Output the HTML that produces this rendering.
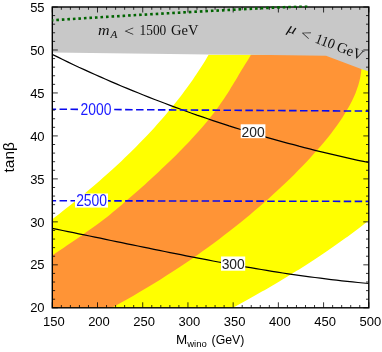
<!DOCTYPE html>
<html><head><meta charset="utf-8"><style>
html,body{margin:0;padding:0;background:#fff;}
svg{display:block;will-change:transform;}
text{font-family:"Liberation Sans",sans-serif;}
.ser text,.ser{font-family:"Liberation Serif",serif;}
</style></head><body>
<svg width="382" height="352" viewBox="0 0 382 352">
<rect width="382" height="352" fill="#fff"/>
<defs><clipPath id="c"><rect x="52.3" y="7.0" width="316.5" height="300.8"/></clipPath><clipPath id="c2"><rect x="52.3" y="5.4" width="316.5" height="100"/></clipPath></defs>
<g clip-path="url(#c)">
<polygon fill="#ffff00" points="51.9,219.5 55.5,216.7 59.2,213.9 62.8,211.1 66.3,208.3 69.9,205.5 73.3,202.8 76.8,200.0 80.2,197.2 83.6,194.4 87.0,191.6 90.3,188.8 93.6,186.0 96.8,183.2 100.0,180.4 103.2,177.6 106.4,174.8 109.5,172.0 112.6,169.3 115.6,166.5 118.6,163.7 121.6,160.9 124.5,158.1 127.4,155.3 130.3,152.5 133.1,149.7 135.9,146.9 138.7,144.1 141.4,141.3 144.1,138.5 146.8,135.8 149.4,133.0 152.0,130.2 154.5,127.4 157.0,124.6 159.5,121.8 162.0,119.0 164.4,116.2 166.7,113.4 169.1,110.6 171.4,107.8 173.7,105.0 175.9,102.3 178.1,99.5 180.3,96.7 182.4,93.9 184.5,91.1 186.6,88.3 188.6,85.5 190.6,82.7 192.6,79.9 194.5,77.1 196.4,74.3 198.2,71.5 200.0,68.8 201.8,66.0 203.6,63.2 205.3,60.4 207.0,57.6 208.6,54.8 369.0,54.4 369.0,220.3 369.0,220.3 367.1,221.8 365.2,223.3 363.3,224.8 361.4,226.2 359.5,227.7 357.5,229.2 355.5,230.7 353.5,232.2 351.5,233.7 349.5,235.2 347.5,236.7 345.5,238.1 343.4,239.6 341.3,241.1 339.2,242.6 337.1,244.1 335.0,245.6 332.9,247.1 330.7,248.5 328.6,250.0 326.4,251.5 324.2,253.0 322.0,254.5 319.8,256.0 317.5,257.5 315.3,258.9 313.0,260.4 310.7,261.9 308.4,263.4 306.1,264.9 303.8,266.4 301.4,267.9 299.1,269.4 296.7,270.8 294.3,272.3 291.9,273.8 289.5,275.3 287.1,276.8 284.6,278.3 282.1,279.8 279.7,281.2 277.2,282.7 274.7,284.2 272.1,285.7 269.6,287.2 267.1,288.7 264.5,290.2 261.9,291.6 259.3,293.1 256.7,294.6 254.1,296.1 251.4,297.6 248.8,299.1 246.1,300.6 243.4,302.1 240.7,303.5 238.0,305.0 235.3,306.5 232.5,308.0 52.0,308.0"/>
<polygon fill="#ff9436" points="52.0,255.5 55.8,253.0 59.6,250.4 63.4,247.9 67.2,245.3 71.0,242.8 74.7,240.3 78.4,237.7 82.1,235.2 85.7,232.6 89.3,230.1 92.9,227.6 96.4,225.0 99.8,222.5 103.1,219.9 106.4,217.4 109.6,214.9 112.7,212.3 115.8,209.8 118.8,207.2 121.8,204.7 124.7,202.1 127.7,199.6 130.6,197.1 133.5,194.5 136.4,192.0 139.3,189.4 142.1,186.9 145.0,184.4 147.8,181.8 150.6,179.3 153.3,176.7 156.1,174.2 158.8,171.7 161.5,169.1 164.2,166.6 166.8,164.0 169.5,161.5 172.1,159.0 174.7,156.4 177.2,153.9 179.8,151.3 182.3,148.8 184.7,146.3 187.2,143.7 189.6,141.2 192.0,138.6 194.3,136.1 196.6,133.6 198.9,131.0 201.1,128.5 203.3,125.9 205.4,123.4 207.5,120.9 209.6,118.3 211.6,115.8 213.6,113.2 215.5,110.7 217.4,108.2 219.3,105.6 221.0,103.1 222.8,100.5 224.5,98.0 226.1,95.4 227.8,92.9 229.4,90.4 230.9,87.8 232.5,85.3 234.0,82.7 235.6,80.2 237.1,77.7 238.6,75.1 240.1,72.6 241.6,70.0 243.2,67.5 244.7,65.0 246.3,62.4 247.9,59.9 249.5,57.3 251.1,54.8 361.2,54.8 361.4,69.1 361.0,73.1 360.3,77.2 359.4,81.2 358.3,85.3 356.9,89.3 355.4,93.4 353.6,97.4 351.7,101.5 349.6,105.5 347.3,109.6 344.9,113.6 342.3,117.7 339.6,121.7 336.8,125.8 333.8,129.8 330.7,133.9 327.5,137.9 324.2,142.0 320.8,146.0 317.2,150.1 313.6,154.1 309.9,158.2 306.2,162.2 302.3,166.3 298.3,170.3 294.3,174.4 290.2,178.4 286.0,182.5 281.7,186.5 277.4,190.6 273.0,194.6 268.5,198.7 263.9,202.7 259.3,206.8 254.5,210.8 249.7,214.9 244.8,218.9 239.9,223.0 234.8,227.0 229.7,231.1 224.4,235.1 219.1,239.2 213.7,243.2 208.2,247.3 202.5,251.3 196.8,255.4 191.0,259.4 185.0,263.5 179.0,267.5 172.8,271.6 166.5,275.6 160.1,279.7 153.5,283.7 146.8,287.8 140.0,291.8 133.0,295.9 125.9,299.9 118.6,304.0 111.2,308.0 52.0,308.0"/>
<polygon fill="#c8c8c8" points="52.0,7.0 369.0,7.0 369.0,71.5 361.2,69.1 326.0,55.8 251.0,54.8 209.0,54.6 52.0,52.4"/>
<polyline fill="none" stroke="#000" stroke-width="1.2" points="52.0,54.3 57.4,56.9 62.7,59.5 68.1,62.1 73.5,64.7 78.8,67.2 84.2,69.6 89.6,72.1 94.9,74.5 100.3,76.9 105.7,79.3 111.0,81.6 116.4,83.9 121.8,86.2 127.1,88.4 132.5,90.6 137.9,92.8 143.3,95.0 148.6,97.1 154.0,99.2 159.4,101.3 164.7,103.3 170.1,105.4 175.5,107.4 180.8,109.3 186.2,111.3 191.6,113.2 196.9,115.1 202.3,116.9 207.7,118.8 213.0,120.6 218.4,122.4 223.8,124.1 229.1,125.9 234.5,127.6 239.9,129.3 245.2,130.9 250.6,132.5 256.0,134.2 261.3,135.7 266.7,137.3 272.1,138.8 277.4,140.3 282.8,141.8 288.2,143.3 293.6,144.7 298.9,146.2 304.3,147.6 309.7,148.9 315.0,150.3 320.4,151.6 325.8,152.9 331.1,154.2 336.5,155.4 341.9,156.7 347.2,157.9 352.6,159.1 358.0,160.3 363.3,161.4 368.7,162.5"/>
<polyline fill="none" stroke="#000" stroke-width="1.2" points="52.0,228.3 57.4,229.4 62.7,230.5 68.1,231.6 73.5,232.7 78.8,233.8 84.2,234.9 89.6,236.0 94.9,237.1 100.3,238.2 105.7,239.4 111.0,240.5 116.4,241.6 121.8,242.7 127.1,243.8 132.5,244.9 137.9,246.0 143.3,247.1 148.6,248.2 154.0,249.3 159.4,250.4 164.7,251.5 170.1,252.6 175.5,253.7 180.8,254.7 186.2,255.8 191.6,256.8 196.9,257.9 202.3,258.9 207.7,259.9 213.0,261.0 218.4,262.0 223.8,262.9 229.1,263.9 234.5,264.9 239.9,265.8 245.2,266.8 250.6,267.7 256.0,268.6 261.3,269.5 266.7,270.4 272.1,271.3 277.4,272.1 282.8,273.0 288.2,273.8 293.6,274.6 298.9,275.3 304.3,276.1 309.7,276.8 315.0,277.5 320.4,278.2 325.8,278.9 331.1,279.6 336.5,280.2 341.9,280.8 347.2,281.4 352.6,281.9 358.0,282.5 363.3,283.0 368.7,283.5"/>
<path d="M52,109.2L369,111.1M52,200.7L369,201.4" stroke="#0a0aee" stroke-width="1.6" stroke-dasharray="7.5,3.43" stroke-dashoffset="3.38" fill="none"/>
</g>
<rect x="240.7" y="124.3" width="24.7" height="13.9" fill="#fff"/>
<rect x="221" y="256.5" width="24.2" height="14.2" fill="#fff"/>
<rect x="79.5" y="103" width="33" height="14.1" fill="#fff"/>
<rect x="75" y="193.5" width="33" height="14.1" fill="#fff"/>
<text transform="translate(253.1,136.8) scale(0.9,1)" font-size="15.4" fill="#222" text-anchor="middle">200</text>
<text transform="translate(233.2,269.3) scale(0.9,1)" font-size="15.4" fill="#222" text-anchor="middle">300</text>
<text transform="translate(96,115.4) scale(0.88,1)" font-size="15.8" fill="#1a1aff" text-anchor="middle">2000</text>
<text transform="translate(91.6,205.8) scale(0.88,1)" font-size="15.8" fill="#1a1aff" text-anchor="middle">2500</text>
<path d="M52.30,307.8v-5.5M52.30,7.0v5.5M61.34,307.8v-2.8M61.34,7.0v2.8M70.39,307.8v-2.8M70.39,7.0v2.8M79.43,307.8v-2.8M79.43,7.0v2.8M88.47,307.8v-2.8M88.47,7.0v2.8M97.51,307.8v-5.5M97.51,7.0v5.5M106.56,307.8v-2.8M106.56,7.0v2.8M115.60,307.8v-2.8M115.60,7.0v2.8M124.64,307.8v-2.8M124.64,7.0v2.8M133.69,307.8v-2.8M133.69,7.0v2.8M142.73,307.8v-5.5M142.73,7.0v5.5M151.77,307.8v-2.8M151.77,7.0v2.8M160.81,307.8v-2.8M160.81,7.0v2.8M169.86,307.8v-2.8M169.86,7.0v2.8M178.90,307.8v-2.8M178.90,7.0v2.8M187.94,307.8v-5.5M187.94,7.0v5.5M196.99,307.8v-2.8M196.99,7.0v2.8M206.03,307.8v-2.8M206.03,7.0v2.8M215.07,307.8v-2.8M215.07,7.0v2.8M224.11,307.8v-2.8M224.11,7.0v2.8M233.16,307.8v-5.5M233.16,7.0v5.5M242.20,307.8v-2.8M242.20,7.0v2.8M251.24,307.8v-2.8M251.24,7.0v2.8M260.29,307.8v-2.8M260.29,7.0v2.8M269.33,307.8v-2.8M269.33,7.0v2.8M278.37,307.8v-5.5M278.37,7.0v5.5M287.41,307.8v-2.8M287.41,7.0v2.8M296.46,307.8v-2.8M296.46,7.0v2.8M305.50,307.8v-2.8M305.50,7.0v2.8M314.54,307.8v-2.8M314.54,7.0v2.8M323.59,307.8v-5.5M323.59,7.0v5.5M332.63,307.8v-2.8M332.63,7.0v2.8M341.67,307.8v-2.8M341.67,7.0v2.8M350.71,307.8v-2.8M350.71,7.0v2.8M359.76,307.8v-2.8M359.76,7.0v2.8M368.80,307.8v-5.5M368.80,7.0v5.5M52.3,307.80h5.5M368.8,307.80h-5.5M52.3,299.21h2.8M368.8,299.21h-2.8M52.3,290.61h2.8M368.8,290.61h-2.8M52.3,282.02h2.8M368.8,282.02h-2.8M52.3,273.42h2.8M368.8,273.42h-2.8M52.3,264.83h5.5M368.8,264.83h-5.5M52.3,256.23h2.8M368.8,256.23h-2.8M52.3,247.64h2.8M368.8,247.64h-2.8M52.3,239.05h2.8M368.8,239.05h-2.8M52.3,230.45h2.8M368.8,230.45h-2.8M52.3,221.86h5.5M368.8,221.86h-5.5M52.3,213.26h2.8M368.8,213.26h-2.8M52.3,204.67h2.8M368.8,204.67h-2.8M52.3,196.07h2.8M368.8,196.07h-2.8M52.3,187.48h2.8M368.8,187.48h-2.8M52.3,178.89h5.5M368.8,178.89h-5.5M52.3,170.29h2.8M368.8,170.29h-2.8M52.3,161.70h2.8M368.8,161.70h-2.8M52.3,153.10h2.8M368.8,153.10h-2.8M52.3,144.51h2.8M368.8,144.51h-2.8M52.3,135.91h5.5M368.8,135.91h-5.5M52.3,127.32h2.8M368.8,127.32h-2.8M52.3,118.73h2.8M368.8,118.73h-2.8M52.3,110.13h2.8M368.8,110.13h-2.8M52.3,101.54h2.8M368.8,101.54h-2.8M52.3,92.94h5.5M368.8,92.94h-5.5M52.3,84.35h2.8M368.8,84.35h-2.8M52.3,75.75h2.8M368.8,75.75h-2.8M52.3,67.16h2.8M368.8,67.16h-2.8M52.3,58.57h2.8M368.8,58.57h-2.8M52.3,49.97h5.5M368.8,49.97h-5.5M52.3,41.38h2.8M368.8,41.38h-2.8M52.3,32.78h2.8M368.8,32.78h-2.8M52.3,24.19h2.8M368.8,24.19h-2.8M52.3,15.59h2.8M368.8,15.59h-2.8M52.3,7.00h5.5M368.8,7.00h-5.5" stroke="#000" stroke-width="0.8" fill="none"/>
<rect x="52.3" y="7.0" width="316.5" height="300.8" fill="none" stroke="#000" stroke-width="1.4"/>
<g clip-path="url(#c2)"><polyline points="52.0,20.3 60.9,19.7 69.8,19.1 78.7,18.6 87.6,18.0 96.5,17.5 105.4,16.9 114.3,16.4 123.2,15.9 132.1,15.3 141.0,14.8 149.9,14.3 158.8,13.8 167.7,13.3 176.6,12.8 185.4,12.3 194.3,11.8 203.2,11.3 212.1,10.8 221.0,10.4 229.9,9.9 238.8,9.4 247.7,9.0 256.6,8.5 265.5,8.1 274.4,7.6 283.3,7.2 292.2,6.8 301.1,6.3 310.0,5.9" stroke="#006400" stroke-width="2.6" stroke-dasharray="2.6,2.93" stroke-dashoffset="1.2" fill="none"/></g>
<g font-size="13" fill="#000"><text x="53.8" y="326" text-anchor="middle">150</text><text x="99.0" y="326" text-anchor="middle">200</text><text x="144.2" y="326" text-anchor="middle">250</text><text x="189.4" y="326" text-anchor="middle">300</text><text x="234.7" y="326" text-anchor="middle">350</text><text x="279.9" y="326" text-anchor="middle">400</text><text x="325.1" y="326" text-anchor="middle">450</text><text x="370.3" y="326" text-anchor="middle">500</text><text x="44.6" y="312.4" text-anchor="end">20</text><text x="44.6" y="269.4" text-anchor="end">25</text><text x="44.6" y="226.5" text-anchor="end">30</text><text x="44.6" y="183.5" text-anchor="end">35</text><text x="44.6" y="140.5" text-anchor="end">40</text><text x="44.6" y="97.5" text-anchor="end">45</text><text x="44.6" y="54.6" text-anchor="end">50</text><text x="44.6" y="11.6" text-anchor="end">55</text></g>
<text font-size="13.4" x="176" y="344.4"><tspan>M</tspan><tspan font-size="9.5" dy="3">wino</tspan></text>
<text font-size="13.4" x="211.6" y="344.4" textLength="32.8" lengthAdjust="spacingAndGlyphs">(GeV)</text>
<text font-size="15.5" text-anchor="middle" transform="translate(13.6,157.3) rotate(-90)">tan&#946;</text>
<g class="ser" font-size="14.5" fill="#111">
<text x="97.9" y="35.3" font-style="italic" textLength="11.6" lengthAdjust="spacingAndGlyphs">m</text>
<text x="110.4" y="37.6" font-style="italic" font-size="9.5" textLength="6.9" lengthAdjust="spacingAndGlyphs">A</text>
<text x="123.9" y="35.8" textLength="10.1" lengthAdjust="spacingAndGlyphs">&lt;</text>
<text x="139.6" y="35.3" textLength="26.7" lengthAdjust="spacingAndGlyphs">1500</text>
<text x="171" y="35.3" textLength="27.4" lengthAdjust="spacingAndGlyphs">GeV</text>
</g>
<g class="ser" font-size="14.5" fill="#111" transform="translate(286.5,31.5) rotate(21)">
<text x="0" y="0" font-style="italic" textLength="8.7" lengthAdjust="spacingAndGlyphs">&#956;</text>
<text x="14" y="0.5" textLength="10.1" lengthAdjust="spacingAndGlyphs">&lt;</text>
<text x="29.7" y="0" textLength="20" lengthAdjust="spacingAndGlyphs">110</text>
<text x="52.8" y="0" textLength="27.4" lengthAdjust="spacingAndGlyphs">GeV</text>
</g>
</svg>
</body></html>
